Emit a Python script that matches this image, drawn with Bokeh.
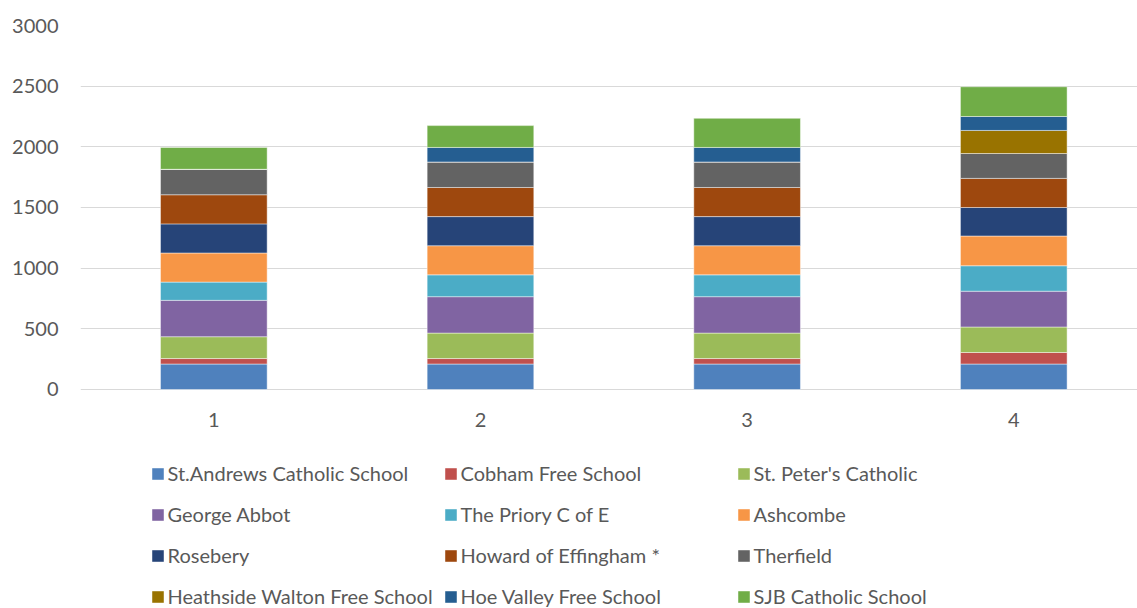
from bokeh.plotting import figure
from bokeh.models import Range1d, FixedTicker, Legend, LegendItem, ColumnDataSource
from bokeh.embed import file_html
from bokeh.resources import INLINE

# ---- data ----
categories = [1, 2, 3, 4]
schools = [
    "St.Andrews Catholic School", "Cobham Free School", "St. Peter's Catholic",
    "George Abbot", "The Priory C of E", "Ashcombe",
    "Rosebery", "Howard of Effingham *", "Therfield",
    "Heathside Walton Free School", "Hoe Valley Free School", "SJB Catholic School",
]
st_andrews = [210, 210, 210, 210]
cobham = [45, 45, 45, 95]
st_peters = [180, 210, 210, 210]
george_abbot = [300, 300, 300, 295]
priory = [150, 180, 180, 210]
ashcombe = [240, 240, 240, 245]
rosebery = [240, 240, 240, 235]
howard = [240, 240, 240, 240]
therfield = [210, 210, 210, 205]
heathside = [0, 0, 0, 190]
hoe_valley = [0, 120, 120, 115]
sjb = [180, 180, 240, 245]
series = [st_andrews, cobham, st_peters, george_abbot, priory, ashcombe,
          rosebery, howard, therfield, heathside, hoe_valley, sjb]
colors = ["#4F81BD", "#C0504D", "#9BBB59", "#8064A2", "#4BACC6", "#F79646",
          "#264478", "#9E480E", "#636363", "#997300", "#255E91", "#70AD47"]
y_ticks = [0, 500, 1000, 1500, 2000, 2500, 3000]

FONT = "Lato"
TXT = "#595959"

data = {"x": categories}
for name, vals in zip(schools, series):
    data[name] = vals
source = ColumnDataSource(data)

# frame spans the whole lower area so the legend (inside it) is not clipped;
# the y range is extended below 0 to leave room for the axis labels and legend
p = figure(width=1137, height=608, output_backend="svg", toolbar_location=None,
           x_range=Range1d(0.5, 4.464), y_range=Range1d(-1805, 3000),
           min_border_left=80, min_border_right=0, min_border_top=25,
           min_border_bottom=0)
p.outline_line_color = None

renderers = p.vbar_stack(schools, x="x", width=0.4, source=source, color=colors,
                         line_color="white", line_width=0.75, line_alpha=0.6)

p.xgrid.grid_line_color = None
p.ygrid.grid_line_color = "#D9D9D9"
p.ygrid.grid_line_width = 1
p.yaxis.ticker = FixedTicker(ticks=y_ticks)
p.xaxis.ticker = FixedTicker(ticks=categories)
p.xaxis.fixed_location = 0
for ax in (p.xaxis, p.yaxis):
    ax.axis_line_color = None
    ax.major_tick_line_color = None
    ax.minor_tick_line_color = None
    ax.major_tick_out = 0
    ax.major_tick_in = 0
    ax.major_label_text_font = FONT
    ax.major_label_text_font_size = "20px"
    ax.major_label_text_color = TXT
p.yaxis.major_label_standoff = 22
p.xaxis.major_label_standoff = 24

col_x = [69.5, 362.5, 655.5]
for c in range(3):
    items = [LegendItem(label=schools[r * 3 + c], renderers=[renderers[r * 3 + c]])
             for r in range(4)]
    lg = Legend(items=items, location=(col_x[c], 0), orientation="vertical",
                padding=0, margin=0, spacing=17, glyph_width=15, glyph_height=15,
                label_height=24, label_standoff=3, label_text_font=FONT,
                label_text_font_size="20px", label_text_color=TXT,
                border_line_color=None, background_fill_alpha=0)
    p.add_layout(lg, "center")

open("out.html", "w").write(file_html(p, INLINE))
